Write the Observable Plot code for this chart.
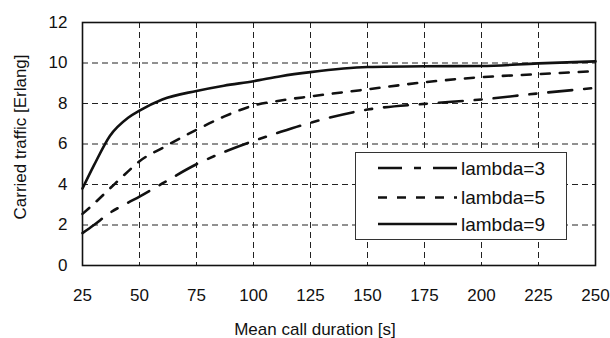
<!DOCTYPE html>
<html>
<head>
<meta charset="utf-8">
<script src="https://cdn.jsdelivr.net/npm/d3@7"></script>
<script src="https://cdn.jsdelivr.net/npm/@observablehq/plot@0.6"></script>
<style>
  html, body { margin: 0; padding: 0; background: #fff; }
  #wrap { position: relative; width: 610px; height: 338px; font-family: "Liberation Sans", Arial, sans-serif; }
  #legend { position: absolute; left: 355px; top: 152px; width: 212px; height: 88px; background: #fff; border: 1px solid #333; box-sizing: border-box; }
</style>
</head>
<body>
<div id="wrap"></div>
<script>
const durations = [25, 30, 37, 45, 50, 60, 75, 87, 100, 112, 125, 150, 175, 200, 225, 250];
const lambda3 = [1.6, 2.0, 2.6, 3.1, 3.4, 4.05, 5.0, 5.6, 6.15, 6.6, 7.05, 7.7, 7.98, 8.2, 8.5, 8.77];
const lambda5 = [2.55, 3.05, 3.8, 4.65, 5.15, 5.8, 6.7, 7.35, 7.9, 8.15, 8.35, 8.7, 9.05, 9.3, 9.45, 9.6];
const lambda9 = [3.8, 4.94, 6.4, 7.3, 7.65, 8.2, 8.62, 8.88, 9.1, 9.35, 9.55, 9.8, 9.84, 9.85, 9.98, 10.08];
const seriesNames = ["lambda=3", "lambda=5", "lambda=9"];
const seriesValues = [lambda3, lambda5, lambda9];
const dashes = ["24,12,7,12", "9,10", null];
const xTicks = [25, 50, 75, 100, 125, 150, 175, 200, 225, 250];
const yTicks = [0, 2, 4, 6, 8, 10, 12];
const xTitle = "Mean call duration [s]";
const yTitle = "Carried traffic [Erlang]";

const FONT = 17;
const lineMarks = seriesNames.map((name, i) => {
  const data = durations.map((d, j) => ({x: d, y: seriesValues[i][j]}));
  return Plot.line(data, {x: "x", y: "y", stroke: "#111", strokeWidth: 2.6,
    strokeDasharray: dashes[i] || undefined, curve: "monotone-x"});
});

const chart = Plot.plot({
  width: 610, height: 338,
  marginLeft: 82, marginRight: 15, marginTop: 22, marginBottom: 73,
  style: {fontFamily: "'Liberation Sans', Arial, sans-serif", fontSize: FONT + "px", color: "#111", background: "#fff"},
  x: {domain: [25, 250], ticks: xTicks},
  y: {domain: [0, 12], ticks: yTicks},
  marks: [
    Plot.gridX(xTicks.slice(1, -1), {stroke: "#222", strokeOpacity: 1, strokeWidth: 1, strokeDasharray: "6,4"}),
    Plot.gridY(yTicks.slice(1, -1), {stroke: "#222", strokeOpacity: 1, strokeWidth: 1, strokeDasharray: "6,4"}),
    Plot.axisX(xTicks, {tickSize: 0, tickPadding: 23, label: null, fontSize: FONT}),
    Plot.axisY(yTicks, {tickSize: 0, tickPadding: 15, label: null, fontSize: FONT}),
    ...lineMarks,
    Plot.frame({stroke: "#111", strokeWidth: 1.6}),
    Plot.text([xTitle], {frameAnchor: "bottom", lineAnchor: "middle", textAnchor: "middle", dx: -24, dy: 64, fontSize: FONT, fill: "#111"}),
    Plot.text([yTitle], {frameAnchor: "left", textAnchor: "middle", lineAnchor: "middle", dx: -62, dy: -7, rotate: -90, fontSize: FONT, fill: "#111"})
  ]
});

const wrap = document.getElementById("wrap");
wrap.appendChild(chart);

// legend overlay
const legend = document.createElement("div");
legend.id = "legend";
const ns = "http://www.w3.org/2000/svg";
const svg = document.createElementNS(ns, "svg");
svg.setAttribute("width", 210); svg.setAttribute("height", 86);
const rowY = [15, 44.5, 71];
seriesNames.forEach((name, i) => {
  const ln = document.createElementNS(ns, "line");
  ln.setAttribute("x1", 22); ln.setAttribute("x2", 101);
  ln.setAttribute("y1", rowY[i]); ln.setAttribute("y2", rowY[i]);
  ln.setAttribute("stroke", "#111"); ln.setAttribute("stroke-width", 2.6);
  if (dashes[i]) ln.setAttribute("stroke-dasharray", dashes[i]);
  svg.appendChild(ln);
  const t = document.createElementNS(ns, "text");
  t.setAttribute("x", 105); t.setAttribute("y", rowY[i]);
  t.setAttribute("dy", "0.35em");
  t.setAttribute("font-size", 19);
  t.setAttribute("font-family", "'Liberation Sans', Arial, sans-serif");
  t.setAttribute("fill", "#111");
  t.textContent = name;
  svg.appendChild(t);
});
legend.appendChild(svg);
wrap.appendChild(legend);
</script>
</body>
</html>
